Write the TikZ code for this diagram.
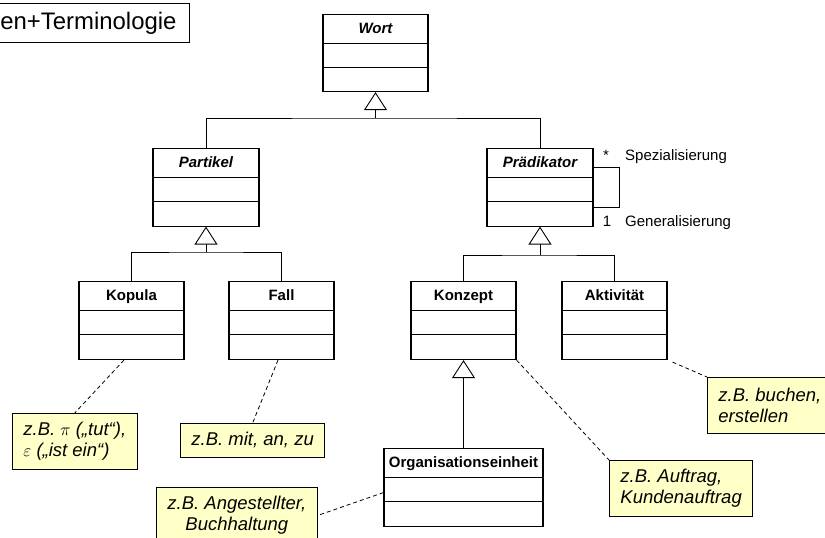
\documentclass[tikz,border=0pt]{standalone}
\usepackage{fontspec}
\setmainfont{Liberation Sans}
\usetikzlibrary{arrows.meta}
\definecolor{notefill}{RGB}{255,255,200}

\begin{document}
\begin{tikzpicture}[
  x=1pt, y=-1pt,
  font=\fontsize{15}{18}\selectfont,
  cls/.style={draw, line width=1.1pt, fill=white, inner xsep=2pt, inner ysep=0pt,
    minimum width=105pt, text height=19pt, text depth=59pt, anchor=north,
    font=\fontsize{15}{18}\selectfont\bfseries,
    path picture={
      \draw[line width=1.1pt] ([yshift=-29pt]path picture bounding box.north west)
        -- ([yshift=-29pt]path picture bounding box.north east);
      \draw[line width=1.1pt] ([yshift=-53pt]path picture bounding box.north west)
        -- ([yshift=-53pt]path picture bounding box.north east);
    }},
  abstr/.style={cls, font=\fontsize{15}{18}\selectfont\bfseries\itshape},
  note/.style={draw, line width=0.9pt, fill=notefill, inner xsep=11pt, inner ysep=0pt,
    minimum height=56pt, align=left, anchor=north west,
    font=\fontsize{18.5}{21}\selectfont\itshape},
  tree/.style={line width=0.9pt},
  gen/.style={tree, -{Triangle[open, length=18pt, width=23pt]}},
  dep/.style={dash pattern=on 4pt off 3pt, line width=0.8pt},
  lbl/.style={inner sep=0pt},
]
\useasboundingbox (0,0) rectangle (825,538);
\clip (0,0) rectangle (825,538);

\node[draw, line width=1.1pt, text width=250pt, align=right, inner xsep=13pt,
  inner ysep=0pt, minimum height=39pt, anchor=north east,
  font=\fontsize{23.9}{28}\selectfont] (titel) at (190,3) {en+Terminologie};

% Klassen
\node[abstr, text depth=58pt] (wort) at (375.5,14) {Wort};
\node[abstr, minimum width=106pt] (partikel) at (206,147.5) {Partikel};
\node[abstr, minimum width=106pt] (praed) at (540,147.5) {Prädikator};
\node[cls] (kopula) at (131.5,281) {Kopula};
\node[cls] (fall) at (281.5,281) {Fall};
\node[cls] (konzept) at (463.5,281) {Konzept};
\node[cls] (aktiv) at (614.5,281) {Aktivität};
\node[cls, minimum width=159pt] (orga) at (463.5,448) {Organisationseinheit};

% Vererbung
\coordinate (wortbus) at (375.5,118);
\draw[tree] (partikel.north) |- (wortbus) -| (praed.north);
\draw[gen] (wortbus) -- (wort.south);

\coordinate (partbus) at (206,252);
\draw[tree] (kopula.north) |- (partbus) -| (fall.north);
\draw[gen] (partbus) -- (partikel.south);

\coordinate (praedbus) at (540,255);
\draw[tree] (konzept.north) |- (praedbus) -| (aktiv.north);
\draw[gen] (praedbus) -- (praed.south);

\draw[gen] (orga.north) -- (konzept.south);

% Selbstassoziation
\draw[tree] ([yshift=-20pt]praed.north east) -- ++(26,0)
  |- ([yshift=19.5pt]praed.south east);
\node[lbl, anchor=base] (stern) at (606,160) {*};
\node[lbl, anchor=base west] (spez) at (625,160) {Spezialisierung};
\node[lbl, anchor=base] (eins) at (607,226) {1};
\node[lbl, anchor=base west] (gen) at (625,226) {Generalisierung};

% Notizen
\node[note] (nkopula) at (12,413) {z.B. $\pi$ („tut“),\\$\varepsilon$ („ist ein“)};
\draw[dep] ([xshift=-7.5pt]kopula.south) -- (nkopula.north);

\node[note, minimum height=34pt] (nfall) at (180,423) {z.B. mit, an, zu};
\draw[dep] ([xshift=-3.5pt]fall.south) -- (nfall.north);

\node[note, align=center] (nangest) at (156,487) {z.B. Angestellter,\\Buchhaltung};
\draw[dep] ([yshift=-5pt]orga.west) -- (nangest.east);

\node[note] (nauftrag) at (609,460) {z.B. Auftrag,\\Kundenauftrag};
\draw[dep] (konzept.south east) -- (nauftrag.north west);

\node[note] (nbuchen) at (707,377) {z.B. buchen,\\erstellen};
\draw[dep] ([xshift=5pt, yshift=-2pt]aktiv.south east) -- (nbuchen.north west);

\end{tikzpicture}
\end{document}
